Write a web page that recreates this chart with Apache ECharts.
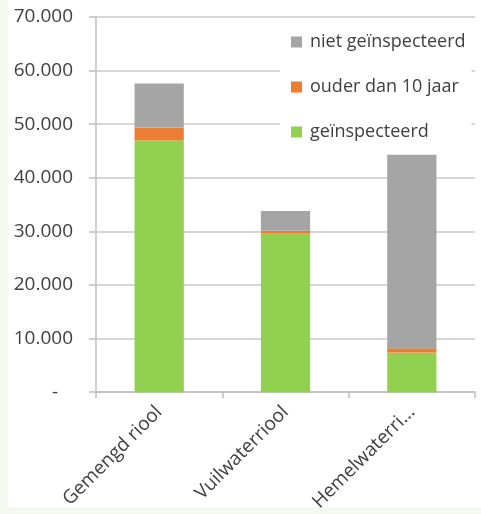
<!DOCTYPE html>
<html>
<head>
<meta charset="utf-8">
<script src="https://cdn.jsdelivr.net/npm/echarts@6/dist/echarts.min.js"></script>
<style>
html,body{margin:0;padding:0;background:#ffffff;}
#chart{width:481px;height:514px;}
</style>
</head>
<body>
<div id="chart"></div>
<script>
var categories = ['Gemengd riool', 'Vuilwaterriool', 'Hemelwaterri...'];
var geinspecteerd = [47000, 29700, 7400];
var ouderDan10 = [2400, 400, 800];
var nietGeinspecteerd = [8200, 3700, 36100];
var seriesNames = ['geïnspecteerd', 'ouder dan 10 jaar', 'niet geïnspecteerd'];
var legendOrder = ['niet geïnspecteerd', 'ouder dan 10 jaar', 'geïnspecteerd'];

var FONT = 'Open Sans';
var chart = echarts.init(document.getElementById('chart'), null, {renderer: 'canvas'});

function fmt(v) {
  if (v === 0) return '-   ';
  return String(v).replace(/\B(?=(\d{3})+(?!\d))/g, '.');
}

chart.setOption({
  animation: false,
  backgroundColor: '#ffffff',
  textStyle: {fontFamily: FONT},
  graphic: [
    {type: 'rect', left: 0, top: 0, shape: {width: 8, height: 514}, style: {fill: '#f3f9f1'}, silent: true},
    {type: 'rect', left: 0, top: 507, shape: {width: 481, height: 7}, style: {fill: '#f3f9f1'}, silent: true}
  ],
  grid: {left: 96, right: 6, top: 17, bottom: 121, containLabel: false},
  legend: {
    data: legendOrder,
    orient: 'vertical',
    left: 280,
    top: 25,
    itemGap: 27,
    itemWidth: 11,
    itemHeight: 11,
    padding: [8, 6, 8, 11],
    backgroundColor: '#ffffff',
    icon: 'rect',
    textStyle: {fontFamily: FONT, fontSize: 18, color: '#404040', padding: [0, 0, 0, 3]}
  },
  xAxis: {
    type: 'category',
    data: categories,
    axisLine: {lineStyle: {color: '#bfbfbf', width: 1.5}},
    axisTick: {show: true, length: 6, lineStyle: {color: '#bfbfbf', width: 1.5}},
    axisLabel: {
      rotate: 45, interval: 0, margin: 17,
      fontFamily: FONT, fontSize: 19, color: '#404040'
    }
  },
  yAxis: {
    type: 'value',
    min: 0, max: 70000, interval: 10000,
    axisLine: {show: true, lineStyle: {color: '#bfbfbf', width: 1.5}},
    axisTick: {show: true, length: 7, lineStyle: {color: '#bfbfbf', width: 1.5}},
    splitLine: {lineStyle: {color: '#c8c8c8', width: 1.5}},
    axisLabel: {
      margin: 23, fontFamily: FONT, fontSize: 19, color: '#404040',
      formatter: fmt
    }
  },
  series: [
    {name: seriesNames[0], type: 'bar', stack: 'total', data: geinspecteerd, barWidth: '39%', itemStyle: {color: '#92d050'}},
    {name: seriesNames[1], type: 'bar', stack: 'total', data: ouderDan10, barWidth: '39%', itemStyle: {color: '#ed7d31'}},
    {name: seriesNames[2], type: 'bar', stack: 'total', data: nietGeinspecteerd, barWidth: '39%', itemStyle: {color: '#a5a5a5'}}
  ]
});
</script>
</body>
</html>
